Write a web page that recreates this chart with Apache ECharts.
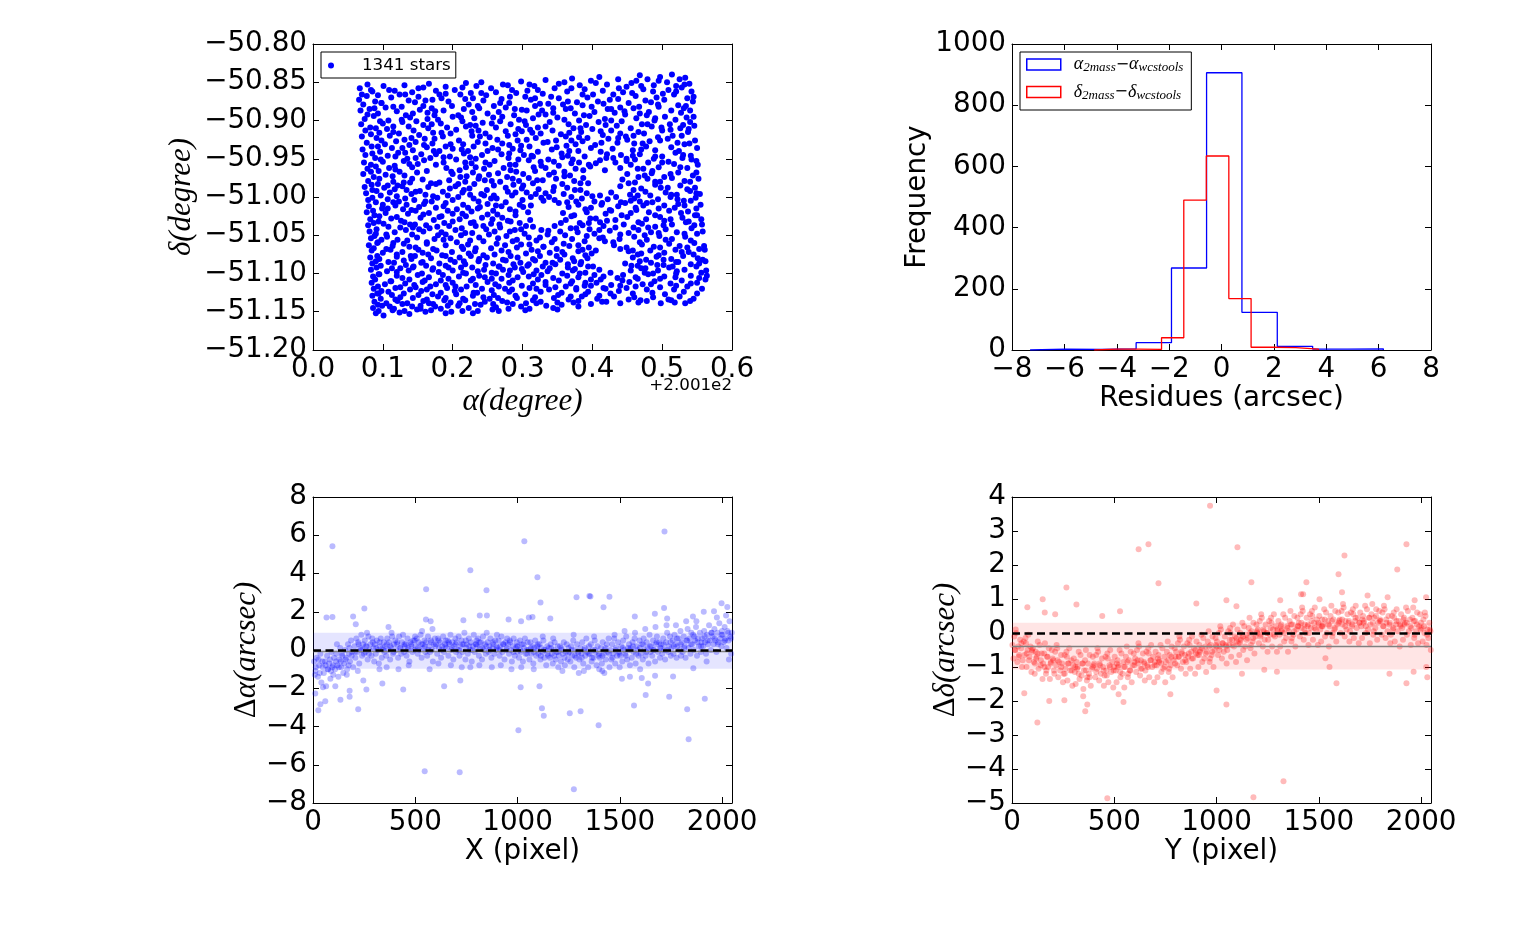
<!DOCTYPE html>
<html><head><meta charset="utf-8">
<script src="https://cdn.jsdelivr.net/npm/echarts@6/dist/echarts.min.js"></script>
<style>html,body{margin:0;padding:0;background:#fff}#c{width:1518px;height:927px}</style>
</head><body><div id="c"></div>
<script>
// ---------- DATA ----------
const starCountLabel = '1341 stars';
const raOffsetText = '+2.001e2';
// [alpha - 200.1 (deg), delta (deg)]
const starPositionsA = [
[.067,-50.858],[.078,-50.853],[.101,-50.855],[.109,-50.86],[.131,-50.854],[.158,-50.857],[.166,-50.852],[.19,-50.856],[.219,-50.851],[.234,-50.855],[.241,-50.85],[.272,-50.853],[.298,-50.849],[.31,-50.853],[.333,-50.847],[.36,-50.85],[.371,-50.845],[.398,-50.848],[.41,-50.843],[.437,-50.846],[.468,-50.841],[.479,-50.846],[.497,-50.843],[.514,-50.84],[.533,-50.844],
[.07,-50.866],[.085,-50.862],[.093,-50.867],[.117,-50.861],[.124,-50.866],[.142,-50.863],[.176,-50.861],[.181,-50.866],[.203,-50.86],[.226,-50.864],[.255,-50.858],[.262,-50.863],[.285,-50.86],[.317,-50.855],[.322,-50.86],[.346,-50.858],[.382,-50.854],[.389,-50.859],[.421,-50.853],[.449,-50.856],[.456,-50.851],[.488,-50.854],[.507,-50.85],[.52,-50.855],[.539,-50.852],
[.066,-50.873],[.089,-50.875],[.112,-50.87],[.137,-50.874],[.151,-50.869],[.161,-50.874],[.184,-50.871],[.211,-50.866],[.229,-50.871],[.248,-50.867],[.27,-50.872],[.291,-50.864],[.304,-50.869],[.329,-50.865],[.341,-50.869],[.364,-50.862],[.401,-50.866],[.415,-50.861],[.43,-50.866],[.444,-50.863],[.473,-50.859],[.501,-50.865],[.509,-50.86],[.528,-50.857],[.542,-50.862],
[.072,-50.879],[.081,-50.885],[.098,-50.877],[.104,-50.883],[.127,-50.882],[.146,-50.876],[.17,-50.884],[.194,-50.875],[.199,-50.881],[.223,-50.879],[.244,-50.874],[.259,-50.881],[.281,-50.877],[.312,-50.873],[.337,-50.878],[.352,-50.871],[.378,-50.876],[.393,-50.87],[.408,-50.875],[.425,-50.873],[.462,-50.868],[.476,-50.874],[.492,-50.87],[.517,-50.866],[.536,-50.871],
[.068,-50.887],[.093,-50.891],[.12,-50.888],[.133,-50.893],[.153,-50.886],[.164,-50.89],[.187,-50.887],[.208,-50.893],[.216,-50.885],[.238,-50.884],[.266,-50.889],[.276,-50.883],[.299,-50.886],[.318,-50.881],[.328,-50.887],[.358,-50.879],[.369,-50.884],[.386,-50.88],[.416,-50.878],[.44,-50.883],[.452,-50.877],[.467,-50.882],[.484,-50.876],[.523,-50.88],[.544,-50.875],
[.074,-50.898],[.087,-50.894],[.108,-50.9],[.139,-50.896],[.148,-50.901],[.174,-50.893],[.179,-50.899],[.2,-50.895],[.231,-50.897],[.25,-50.891],[.258,-50.896],[.288,-50.893],[.306,-50.887],[.323,-50.892],[.344,-50.89],[.362,-50.885],[.375,-50.891],[.403,-50.889],[.422,-50.885],[.432,-50.89],[.459,-50.884],[.481,-50.889],[.495,-50.882],[.513,-50.887],[.531,-50.884],
[.069,-50.905],[.082,-50.909],[.1,-50.904],[.115,-50.908],[.128,-50.902],[.158,-50.906],[.183,-50.904],[.192,-50.909],[.214,-50.901],[.225,-50.906],[.243,-50.903],[.268,-50.901],[.283,-50.905],[.295,-50.899],[.315,-50.897],[.339,-50.902],[.35,-50.896],[.381,-50.9],[.396,-50.894],[.418,-50.898],[.447,-50.892],[.463,-50.897],[.478,-50.893],[.504,-50.895],[.527,-50.89],[.545,-50.895],
[.075,-50.913],[.095,-50.916],[.106,-50.911],[.123,-50.917],[.144,-50.913],[.165,-50.91],[.172,-50.916],[.205,-50.912],[.219,-50.908],[.237,-50.913],[.262,-50.909],[.276,-50.914],[.305,-50.906],[.311,-50.912],[.333,-50.908],[.366,-50.905],[.373,-50.91],[.391,-50.906],[.409,-50.902],[.435,-50.907],[.442,-50.901],[.471,-50.905],[.489,-50.9],[.511,-50.905],[.519,-50.899],[.54,-50.902],
[.07,-50.921],[.091,-50.923],[.11,-50.92],[.131,-50.925],[.152,-50.919],[.16,-50.924],[.186,-50.921],[.197,-50.917],[.228,-50.92],[.247,-50.917],[.253,-50.922],[.29,-50.918],[.299,-50.914],[.326,-50.917],[.343,-50.913],[.355,-50.918],[.384,-50.915],[.4,-50.911],[.427,-50.913],[.455,-50.91],[.466,-50.915],[.485,-50.908],[.5,-50.913],[.526,-50.91],[.546,-50.907],
[.077,-50.929],[.084,-50.934],[.103,-50.931],[.119,-50.927],[.138,-50.932],[.147,-50.928],[.171,-50.93],[.19,-50.934],[.209,-50.926],[.215,-50.931],[.236,-50.928],[.264,-50.925],[.271,-50.93],[.293,-50.926],[.319,-50.923],[.336,-50.928],[.362,-50.921],[.37,-50.926],[.393,-50.923],[.415,-50.919],[.423,-50.924],[.448,-50.921],[.474,-50.917],[.494,-50.922],[.515,-50.92],[.537,-50.915],
[.071,-50.938],[.096,-50.941],[.113,-50.936],[.122,-50.942],[.143,-50.939],[.163,-50.935],[.181,-50.94],[.2,-50.937],[.222,-50.94],[.23,-50.934],[.257,-50.936],[.281,-50.932],[.286,-50.937],[.31,-50.934],[.33,-50.929],[.349,-50.935],[.376,-50.931],[.386,-50.927],[.404,-50.932],[.436,-50.929],[.45,-50.925],[.46,-50.93],[.482,-50.927],[.508,-50.924],[.522,-50.929],[.547,-50.926],
[.075,-50.945],[.089,-50.949],[.107,-50.946],[.135,-50.95],[.155,-50.944],[.168,-50.949],[.176,-50.944],[.196,-50.947],[.216,-50.943],[.242,-50.945],[.25,-50.94],[.27,-50.944],[.297,-50.939],[.302,-50.945],[.322,-50.941],[.342,-50.938],[.356,-50.943],[.38,-50.94],[.398,-50.936],[.412,-50.941],[.429,-50.937],[.458,-50.939],[.477,-50.934],[.49,-50.939],[.513,-50.935],[.532,-50.931],[.55,-50.936],
[.073,-50.955],[.083,-50.958],[.1,-50.954],[.117,-50.959],[.13,-50.953],[.15,-50.957],[.159,-50.952],[.187,-50.955],[.205,-50.951],[.227,-50.956],[.233,-50.95],[.26,-50.953],[.28,-50.949],[.309,-50.952],[.315,-50.947],[.337,-50.951],[.365,-50.946],[.372,-50.951],[.389,-50.947],[.42,-50.949],[.441,-50.945],[.449,-50.95],[.468,-50.944],[.5,-50.947],[.519,-50.942],[.541,-50.946],
[.078,-50.963],[.094,-50.966],[.109,-50.962],[.124,-50.967],[.142,-50.961],[.163,-50.966],[.191,-50.962],[.198,-50.967],[.219,-50.961],[.245,-50.963],[.253,-50.958],[.273,-50.962],[.29,-50.958],[.327,-50.959],[.345,-50.954],[.352,-50.959],[.381,-50.955],[.405,-50.956],[.411,-50.952],[.433,-50.955],[.461,-50.951],[.48,-50.955],[.488,-50.95],[.509,-50.954],[.529,-50.949],[.549,-50.953],
[.072,-50.97],[.087,-50.974],[.104,-50.971],[.131,-50.972],[.149,-50.968],[.2,-50.97],[.211,-50.974],[.229,-50.968],[.238,-50.973],[.265,-50.969],[.283,-50.965],[.301,-50.97],[.318,-50.966],[.333,-50.962],[.36,-50.967],[.376,-50.963],[.397,-50.96],[.418,-50.965],[.44,-50.962],[.455,-50.958],[.473,-50.963],[.495,-50.961],[.517,-50.957],[.536,-50.962],[.551,-50.958],
[.079,-50.979],[.093,-50.983],[.115,-50.98],[.121,-50.985],[.139,-50.981],[.157,-50.977],[.181,-50.981],[.195,-50.978],[.218,-50.98],[.237,-50.976],[.256,-50.979],[.278,-50.974],[.295,-50.979],[.309,-50.975],[.338,-50.971],[.348,-50.976],[.368,-50.972],[.387,-50.975],[.45,-50.97],[.466,-50.974],[.485,-50.969],[.503,-50.974],[.523,-50.968],[.544,-50.972],
[.074,-50.987],[.085,-50.991],[.102,-50.988],[.128,-50.986],[.134,-50.991],[.165,-50.987],[.176,-50.983],[.204,-50.986],[.224,-50.989],[.231,-50.983],[.259,-50.985],[.268,-50.98],[.287,-50.984],[.315,-50.982],[.329,-50.978],[.357,-50.983],[.374,-50.979],[.394,-50.982],[.443,-50.977],[.461,-50.981],[.479,-50.976],[.497,-50.98],[.514,-50.975],[.532,-50.979],[.552,-50.976],
[.076,-50.995],[.097,-50.998],[.11,-50.994],[.141,-50.996],[.153,-50.992],[.161,-50.997],[.186,-50.993],[.193,-50.998],[.214,-50.994],[.241,-50.996],[.249,-50.991],[.279,-50.993],[.299,-50.989],[.306,-50.994],[.323,-50.99],[.344,-50.992],[.364,-50.988],[.383,-50.991],[.44,-50.986],[.47,-50.989],[.49,-50.984],[.508,-50.988],[.526,-50.985],[.547,-50.988],
[.079,-51.004],[.09,-51.007],[.107,-51.003],[.123,-51.006],[.145,-51.004],[.17,-51.006],[.178,-51.001],[.2,-51.004],[.208,-51.0],[.23,-51.002],[.245,-50.998],[.263,-51.002],[.285,-50.998],[.312,-51.0],[.319,-50.996],[.338,-51.0],[.359,-50.996],[.37,-51.0],[.392,-50.995],[.411,-50.998],[.427,-50.994],[.454,-50.997],[.476,-50.993],[.483,-50.998],[.505,-50.994],[.521,-50.997],[.54,-50.992],[.554,-50.996],
[.08,-51.012],[.099,-51.015],[.118,-51.011],[.129,-51.016],[.152,-51.013],[.159,-51.009],[.187,-51.012],[.215,-51.01],[.222,-51.014],[.25,-51.009],[.27,-51.012],[.276,-51.007],[.296,-51.01],[.33,-51.005],[.352,-51.008],[.377,-51.006],[.385,-51.002],[.403,-51.006],[.422,-51.003],[.441,-51.007],[.46,-51.002],[.468,-51.006],[.494,-51.003],[.512,-51.0],[.531,-51.005],[.548,-51.001],
[.077,-51.02],[.088,-51.024],[.104,-51.021],[.136,-51.022],[.147,-51.018],[.166,-51.021],[.193,-51.018],[.2,-51.022],[.227,-51.019],[.236,-51.015],[.258,-51.018],[.282,-51.016],[.301,-51.013],[.366,-51.013],[.38,-51.01],[.398,-51.014],[.413,-51.01],[.437,-51.012],[.447,-51.008],[.473,-51.011],[.486,-51.007],[.503,-51.011],[.523,-51.009],[.541,-51.005],[.555,-51.01],
[.082,-51.029],[.094,-51.032],[.112,-51.028],[.126,-51.031],[.154,-51.027],[.173,-51.03],[.181,-51.026],[.21,-51.029],[.219,-51.025],[.242,-51.027],[.264,-51.023],[.271,-51.027],[.29,-51.024],[.308,-51.02],[.358,-51.021],[.374,-51.024],[.392,-51.02],[.419,-51.022],[.427,-51.018],[.455,-51.021],[.463,-51.017],[.481,-51.02],[.51,-51.018],[.518,-51.014],[.537,-51.019],
[.079,-51.037],[.101,-51.035],[.108,-51.039],[.139,-51.036],[.143,-51.04],[.162,-51.037],[.188,-51.034],[.195,-51.038],[.226,-51.034],[.233,-51.038],[.255,-51.035],[.279,-51.031],[.296,-51.034],[.311,-51.03],[.362,-51.03],[.382,-51.034],[.405,-51.028],[.411,-51.033],[.433,-51.03],[.45,-51.026],[.477,-51.029],[.497,-51.026],[.503,-51.031],[.529,-51.027],[.547,-51.024],[.556,-51.029],
[.081,-51.045],[.09,-51.048],[.117,-51.046],[.133,-51.043],[.158,-51.045],[.167,-51.041],[.184,-51.046],[.204,-51.043],[.218,-51.047],[.248,-51.042],[.26,-51.045],[.268,-51.04],[.289,-51.043],[.315,-51.039],[.327,-51.043],[.346,-51.038],[.369,-51.041],[.386,-51.037],[.396,-51.042],[.416,-51.038],[.445,-51.036],[.459,-51.04],[.471,-51.035],[.49,-51.039],[.514,-51.036],[.534,-51.033],[.557,-51.036],
[.083,-51.054],[.098,-51.056],[.106,-51.052],[.121,-51.056],[.149,-51.053],[.174,-51.055],[.179,-51.05],[.197,-51.054],[.212,-51.05],[.238,-51.053],[.252,-51.049],[.277,-51.051],[.303,-51.048],[.309,-51.053],[.336,-51.049],[.354,-51.045],[.361,-51.05],[.379,-51.046],[.403,-51.048],[.425,-51.044],[.452,-51.047],[.466,-51.043],[.484,-51.046],[.505,-51.042],[.521,-51.046],[.542,-51.041],[.558,-51.045],
[.08,-51.063],[.092,-51.06],[.114,-51.064],[.13,-51.061],[.138,-51.065],[.163,-51.061],[.19,-51.063],[.206,-51.059],[.222,-51.062],[.244,-51.058],[.263,-51.061],[.286,-51.058],[.298,-51.062],[.32,-51.057],[.342,-51.059],[.371,-51.055],[.389,-51.058],[.41,-51.054],[.418,-51.058],[.439,-51.055],[.46,-51.052],[.478,-51.056],[.496,-51.051],[.514,-51.055],[.533,-51.052],[.55,-51.048],
[.084,-51.07],[.1,-51.073],[.111,-51.069],[.128,-51.072],[.151,-51.069],[.157,-51.073],[.177,-51.07],[.199,-51.072],[.215,-51.068],[.232,-51.071],[.255,-51.067],[.27,-51.07],[.292,-51.066],[.313,-51.069],[.33,-51.065],[.349,-51.068],[.367,-51.064],[.395,-51.066],[.431,-51.063],[.449,-51.066],[.471,-51.062],[.488,-51.065],[.51,-51.061],[.525,-51.064],[.546,-51.06],[.56,-51.064],
[.082,-51.079],[.095,-51.081],[.12,-51.078],[.141,-51.081],[.146,-51.077],[.169,-51.08],[.185,-51.076],[.21,-51.079],[.226,-51.077],[.249,-51.079],[.26,-51.075],[.283,-51.077],[.305,-51.074],[.325,-51.077],[.339,-51.073],[.36,-51.075],[.38,-51.071],[.399,-51.074],[.405,-51.07],[.452,-51.071],[.465,-51.075],[.483,-51.07],[.503,-51.073],[.519,-51.069],[.538,-51.072],[.561,-51.069],
[.085,-51.087],[.097,-51.09],[.116,-51.086],[.133,-51.089],[.155,-51.086],[.162,-51.09],[.181,-51.087],[.203,-51.085],[.218,-51.088],[.237,-51.084],[.258,-51.087],[.276,-51.083],[.297,-51.086],[.318,-51.083],[.333,-51.086],[.354,-51.082],[.374,-51.084],[.393,-51.08],[.458,-51.079],[.477,-51.082],[.492,-51.078],[.513,-51.081],[.53,-51.077],[.551,-51.08],
[.083,-51.095],[.106,-51.097],[.113,-51.093],[.137,-51.096],[.143,-51.092],[.171,-51.095],[.194,-51.092],[.2,-51.096],[.228,-51.092],[.245,-51.095],[.266,-51.091],[.272,-51.095],[.289,-51.092],[.309,-51.088],[.329,-51.091],[.347,-51.088],[.365,-51.092],[.383,-51.088],[.401,-51.091],[.447,-51.087],[.465,-51.09],[.484,-51.086],[.502,-51.089],[.523,-51.085],[.541,-51.088],[.562,-51.084],
[.086,-51.104],[.095,-51.101],[.12,-51.103],[.128,-51.106],[.15,-51.102],[.166,-51.105],[.186,-51.102],[.209,-51.104],[.219,-51.1],[.238,-51.103],[.262,-51.1],[.28,-51.102],[.301,-51.098],[.316,-51.101],[.336,-51.097],[.357,-51.1],[.372,-51.096],[.39,-51.099],[.41,-51.095],[.455,-51.096],[.47,-51.093],[.494,-51.096],[.51,-51.092],[.532,-51.095],[.549,-51.091],[.563,-51.096],
[.084,-51.112],[.103,-51.114],[.111,-51.11],[.132,-51.113],[.157,-51.111],[.176,-51.114],[.183,-51.109],[.2,-51.112],[.226,-51.109],[.25,-51.111],[.256,-51.107],[.286,-51.109],[.293,-51.105],[.322,-51.108],[.344,-51.106],[.352,-51.109],[.38,-51.105],[.398,-51.108],[.416,-51.104],[.436,-51.106],[.444,-51.102],[.462,-51.105],[.48,-51.101],[.503,-51.104],[.52,-51.1],[.541,-51.103],[.564,-51.103],
[.087,-51.12],[.098,-51.123],[.118,-51.119],[.139,-51.121],[.147,-51.118],[.163,-51.121],[.192,-51.119],[.212,-51.121],[.22,-51.117],[.242,-51.12],[.266,-51.117],[.275,-51.12],[.299,-51.116],[.31,-51.119],[.333,-51.115],[.362,-51.117],[.369,-51.113],[.389,-51.116],[.406,-51.112],[.427,-51.115],[.453,-51.111],[.472,-51.114],[.489,-51.11],[.512,-51.113],[.528,-51.109],[.55,-51.112],[.562,-51.108],
[.085,-51.129],[.094,-51.126],[.113,-51.128],[.125,-51.131],[.151,-51.128],[.171,-51.127],[.179,-51.13],[.205,-51.127],[.229,-51.129],[.235,-51.125],[.259,-51.128],[.281,-51.124],[.304,-51.127],[.326,-51.124],[.338,-51.121],[.356,-51.125],[.377,-51.121],[.394,-51.124],[.419,-51.12],[.438,-51.123],[.449,-51.119],[.478,-51.121],[.497,-51.118],[.517,-51.121],[.536,-51.117],[.557,-51.12],
[.088,-51.137],[.105,-51.139],[.121,-51.136],[.135,-51.139],[.158,-51.136],[.166,-51.139],[.188,-51.135],[.197,-51.138],[.218,-51.135],[.246,-51.137],[.253,-51.133],[.271,-51.136],[.292,-51.132],[.315,-51.135],[.345,-51.132],[.366,-51.134],[.385,-51.13],[.407,-51.133],[.431,-51.13],[.46,-51.131],[.469,-51.135],[.487,-51.131],[.509,-51.134],[.525,-51.13],[.545,-51.133],
[.086,-51.145],[.099,-51.142],[.116,-51.146],[.142,-51.143],[.149,-51.147],[.175,-51.143],[.183,-51.146],[.208,-51.142],[.223,-51.145],[.24,-51.141],[.262,-51.144],[.286,-51.14],[.298,-51.143],[.32,-51.139],[.334,-51.142],[.356,-51.141],[.373,-51.138],[.398,-51.14],[.414,-51.137],[.44,-51.139],[.466,-51.138],[.498,-51.139],[.518,-51.138],[.533,-51.139],
[.09,-51.152],[.101,-51.155],[.124,-51.151],[.138,-51.153],[.161,-51.15],[.19,-51.152],[.214,-51.149],[.229,-51.152],[.266,-51.149],[.304,-51.148],[.35,-51.147]
];
const starPositionsB = [
[.083,-50.86],[.151,-50.858],[.214,-50.857],[.279,-50.854],[.352,-50.852],[.405,-50.851],[.463,-50.848],[.495,-50.848],[.525,-50.846],
[.077,-50.868],[.132,-50.866],[.19,-50.865],[.241,-50.864],[.307,-50.861],[.37,-50.858],[.438,-50.858],[.47,-50.855],[.532,-50.853],
[.098,-50.877],[.171,-50.873],[.218,-50.872],[.282,-50.869],[.318,-50.871],[.386,-50.866],[.457,-50.864],[.487,-50.862],[.52,-50.862],
[.088,-50.884],[.115,-50.882],[.158,-50.881],[.236,-50.881],[.268,-50.877],[.325,-50.878],[.365,-50.875],[.437,-50.872],[.503,-50.873],[.545,-50.869],
[.078,-50.892],[.143,-50.891],[.175,-50.888],[.228,-50.889],[.289,-50.885],[.344,-50.884],[.399,-50.882],[.427,-50.885],[.494,-50.879],[.534,-50.881],
[.096,-50.901],[.127,-50.899],[.164,-50.898],[.212,-50.896],[.271,-50.895],[.333,-50.892],[.388,-50.893],[.446,-50.888],[.468,-50.891],[.54,-50.887],
[.09,-50.91],[.137,-50.908],[.17,-50.905],[.233,-50.907],[.256,-50.904],[.303,-50.901],[.36,-50.899],[.427,-50.9],[.49,-50.897],[.535,-50.896],
[.083,-50.918],[.115,-50.915],[.184,-50.916],[.227,-50.914],[.294,-50.911],[.322,-50.909],[.383,-50.91],[.419,-50.906],[.479,-50.905],[.499,-50.909],[.53,-50.906],
[.098,-50.926],[.141,-50.923],[.174,-50.924],[.239,-50.921],[.279,-50.92],[.314,-50.916],[.367,-50.916],[.412,-50.914],[.44,-50.917],[.512,-50.912],[.538,-50.911],
[.093,-50.934],[.128,-50.936],[.159,-50.932],[.197,-50.931],[.247,-50.93],[.306,-50.925],[.348,-50.926],[.381,-50.922],[.437,-50.923],[.459,-50.92],[.528,-50.92],
[.085,-50.943],[.132,-50.942],[.173,-50.94],[.213,-50.938],[.265,-50.938],[.298,-50.933],[.363,-50.933],[.413,-50.929],[.472,-50.93],[.497,-50.926],[.539,-50.93],
[.097,-50.951],[.118,-50.947],[.147,-50.949],[.187,-50.948],[.225,-50.948],[.281,-50.943],[.313,-50.946],[.367,-50.94],[.421,-50.944],[.47,-50.938],[.524,-50.94],
[.09,-50.96],[.138,-50.957],[.176,-50.958],[.218,-50.955],[.247,-50.955],[.294,-50.951],[.326,-50.954],[.357,-50.948],[.43,-50.949],[.458,-50.946],[.49,-50.947],[.53,-50.945],
[.083,-50.967],[.118,-50.964],[.21,-50.965],[.233,-50.961],[.282,-50.958],[.316,-50.961],[.37,-50.956],[.395,-50.958],[.449,-50.953],[.5,-50.955],[.542,-50.951],
[.095,-50.976],[.114,-50.973],[.142,-50.976],[.22,-50.973],[.252,-50.971],[.291,-50.967],[.345,-50.968],[.387,-50.965],[.465,-50.963],[.486,-50.966],[.526,-50.961],
[.084,-50.984],[.107,-50.985],[.13,-50.981],[.169,-50.982],[.208,-50.983],[.246,-50.978],[.286,-50.976],[.321,-50.978],[.36,-50.973],[.475,-50.972],[.512,-50.97],[.549,-50.968],
[.091,-50.992],[.117,-50.99],[.147,-50.993],[.196,-50.989],[.216,-50.991],[.276,-50.988],[.301,-50.985],[.345,-50.987],[.383,-50.982],[.452,-50.982],[.49,-50.98],[.54,-50.98],
[.085,-51.001],[.12,-50.999],[.132,-51.002],[.172,-50.999],[.225,-50.997],[.259,-50.998],[.29,-50.994],[.333,-50.995],[.375,-50.991],[.459,-50.991],[.498,-50.988],[.536,-50.99],
[.1,-51.01],[.115,-51.007],[.134,-51.01],[.161,-51.006],[.19,-51.008],[.237,-51.006],[.255,-51.002],[.3,-51.004],[.327,-51.001],[.346,-51.004],[.4,-50.999],[.434,-51.0],[.465,-50.998],[.513,-50.997],[.549,-50.995],
[.086,-51.018],[.107,-51.015],[.141,-51.017],[.176,-51.014],[.206,-51.016],[.239,-51.013],[.262,-51.011],[.312,-51.011],[.364,-51.007],[.414,-51.008],[.455,-51.005],[.478,-51.008],[.522,-51.003],
[.095,-51.025],[.12,-51.026],[.158,-51.023],[.184,-51.025],[.214,-51.022],[.25,-51.023],[.29,-51.019],[.39,-51.016],[.425,-51.017],[.462,-51.014],[.495,-51.015],[.532,-51.011],[.549,-51.015],
[.087,-51.034],[.131,-51.033],[.146,-51.036],[.2,-51.032],[.23,-51.033],[.257,-51.029],[.283,-51.032],[.37,-51.025],[.397,-51.028],[.442,-51.024],[.49,-51.024],[.527,-51.021],[.55,-51.024],
[.091,-51.042],[.125,-51.04],[.152,-51.042],[.178,-51.039],[.213,-51.041],[.244,-51.038],[.267,-51.036],[.305,-51.038],[.355,-51.034],[.395,-51.034],[.421,-51.031],[.466,-51.033],[.512,-51.029],[.538,-51.032],
[.088,-51.051],[.105,-51.049],[.142,-51.049],[.19,-51.049],[.228,-51.047],[.282,-51.045],[.298,-51.042],[.337,-51.044],[.377,-51.041],[.41,-51.043],[.433,-51.04],[.48,-51.04],[.502,-51.037],[.546,-51.037],
[.093,-51.059],[.115,-51.06],[.135,-51.057],[.163,-51.059],[.187,-51.056],[.225,-51.057],[.265,-51.054],[.292,-51.056],[.325,-51.053],[.346,-51.055],[.392,-51.051],[.415,-51.053],[.44,-51.049],[.475,-51.05],[.495,-51.047],[.532,-51.048],
[.087,-51.067],[.105,-51.068],[.147,-51.066],[.172,-51.068],[.213,-51.065],[.233,-51.067],[.275,-51.063],[.31,-51.062],[.33,-51.065],[.359,-51.061],[.38,-51.063],[.43,-51.059],[.468,-51.059],[.505,-51.056],[.541,-51.057],
[.092,-51.077],[.12,-51.075],[.14,-51.077],[.165,-51.075],[.19,-51.077],[.223,-51.074],[.244,-51.076],[.28,-51.072],[.322,-51.071],[.357,-51.072],[.386,-51.069],[.44,-51.068],[.458,-51.07],[.497,-51.066],[.536,-51.066],[.553,-51.068],
[.09,-51.084],[.108,-51.085],[.13,-51.083],[.157,-51.085],[.197,-51.082],[.216,-51.084],[.238,-51.081],[.272,-51.082],[.293,-51.079],[.315,-51.081],[.349,-51.077],[.372,-51.08],[.39,-51.076],[.47,-51.074],[.495,-51.076],[.528,-51.072],[.545,-51.075],
[.091,-51.092],[.125,-51.093],[.144,-51.091],[.172,-51.093],[.19,-51.09],[.212,-51.092],[.247,-51.089],[.267,-51.091],[.287,-51.088],[.307,-51.09],[.343,-51.086],[.365,-51.088],[.384,-51.085],[.468,-51.084],[.502,-51.082],[.52,-51.085],[.558,-51.082],
[.094,-51.101],[.12,-51.098],[.156,-51.1],[.18,-51.098],[.215,-51.099],[.236,-51.097],[.256,-51.099],[.282,-51.096],[.299,-51.094],[.32,-51.096],[.339,-51.093],[.375,-51.094],[.394,-51.091],[.456,-51.09],[.476,-51.093],[.493,-51.089],[.515,-51.091],[.553,-51.087],
[.089,-51.108],[.112,-51.11],[.138,-51.108],[.16,-51.109],[.194,-51.107],[.229,-51.107],[.246,-51.105],[.27,-51.107],[.309,-51.104],[.327,-51.102],[.364,-51.103],[.382,-51.1],[.403,-51.102],[.426,-51.099],[.475,-51.099],[.487,-51.1],[.521,-51.097],[.556,-51.099],
[.093,-51.117],[.125,-51.118],[.145,-51.115],[.168,-51.117],[.19,-51.115],[.204,-51.117],[.233,-51.115],[.261,-51.114],[.281,-51.112],[.315,-51.113],[.333,-51.111],[.371,-51.11],[.39,-51.112],[.412,-51.108],[.443,-51.109],[.465,-51.107],[.497,-51.107],[.519,-51.105],[.553,-51.106],
[.092,-51.126],[.108,-51.124],[.13,-51.126],[.155,-51.123],[.183,-51.125],[.203,-51.123],[.23,-51.125],[.256,-51.122],[.285,-51.121],[.32,-51.12],[.347,-51.118],[.377,-51.119],[.398,-51.116],[.416,-51.119],[.44,-51.116],[.462,-51.117],[.484,-51.114],[.52,-51.116],[.541,-51.113],
[.097,-51.133],[.118,-51.134],[.143,-51.132],[.163,-51.134],[.19,-51.132],[.215,-51.133],[.244,-51.131],[.265,-51.132],[.29,-51.129],[.318,-51.131],[.351,-51.128],[.369,-51.13],[.39,-51.127],[.41,-51.129],[.426,-51.126],[.458,-51.126],[.486,-51.125],[.504,-51.127],[.531,-51.124],[.55,-51.126],
[.093,-51.141],[.11,-51.143],[.128,-51.14],[.154,-51.142],[.172,-51.14],[.193,-51.142],[.21,-51.139],[.232,-51.14],[.258,-51.14],[.278,-51.138],[.305,-51.139],[.326,-51.137],[.35,-51.138],[.38,-51.136],[.42,-51.137],[.452,-51.134],[.478,-51.136],[.513,-51.135],[.54,-51.136],
[.094,-51.149],[.114,-51.148],[.131,-51.149],[.154,-51.146],[.169,-51.148],[.198,-51.15],[.236,-51.149],[.257,-51.147],[.28,-51.146],[.31,-51.146],[.344,-51.145],[.38,-51.143]
];
const starPositions = starPositionsA.concat(starPositionsB);
// histogram bin edges and counts (arcsec)
const histEdgesAlpha = [-7.31,-5.96,-4.61,-3.26,-1.91,-0.57,0.78,2.13,3.48,4.83,6.18];
const histCountsAlpha = [3,2,4,24,268,906,123,12,3,4];
const histEdgesDelta = [-4.86,-4.00,-3.15,-2.29,-1.44,-0.58,0.28,1.13,1.99,2.84,3.70];
const histCountsDelta = [3,3,2,40,490,634,168,9,8,3];
const histNameAlpha = 'alpha';
const histNameDelta = 'delta';
// residuals vs pixel: [X pixel, d_alpha arcsec]
const residAlphaX = [
[5,-0.6],[12,-1.1],[18,-0.4],[24,-1.4],[30,-0.8],[36,-0.2],[41,-1.7],[47,-0.9],[9,-1.3],[27,-0.5],
[53,-1.2],[58,-0.6],[64,-1.9],[69,-0.3],[74,-1.0],[79,-0.7],[85,-1.5],[90,-0.1],[95,-0.9],[99,-1.3],[61,-0.8],[88,-1.1],
[103,-0.4],[108,-1.0],[114,-0.2],[119,-0.8],[124,-1.4],[129,-0.5],[133,0.1],[138,-0.9],[143,-0.3],[148,-1.2],[117,0.3],[136,-0.6],
[152,-0.7],[157,0.0],[162,-0.4],[167,-1.0],[171,0.3],[176,-0.2],[181,-0.6],[186,0.5],[191,-0.1],[196,-0.9],[178,0.1],[165,-1.3],
[203,0.2],[207,-0.4],[212,0.6],[216,-0.1],[221,0.4],[226,-0.7],[231,0.1],[236,0.8],[240,-0.3],[245,0.3],[249,-0.2],[219,-1.1],[234,0.0],
[253,0.5],[257,-0.1],[262,0.2],[267,-0.5],[271,0.7],[276,0.0],[281,0.3],[286,-0.3],[290,0.6],[295,0.1],[299,-0.6],[264,0.9],
[302,0.3],[307,-0.2],[312,0.5],[317,0.0],[322,-0.7],[327,0.2],[331,0.6],[336,-0.4],[341,0.1],[346,0.4],[349,-0.1],[325,-1.0],
[353,0.2],[358,-0.3],[363,0.6],[368,0.0],[372,0.4],[377,-0.5],[382,0.1],[387,0.7],[391,-0.2],[396,0.3],[360,-0.9],[384,0.9],
[402,0.5],[407,0.0],[411,0.3],[416,-0.4],[421,0.7],[426,0.1],[431,-0.2],[435,0.4],[440,0.8],[445,-0.1],[449,0.2],[418,-1.0],
[453,0.3],[457,-0.3],[462,0.6],[466,0.1],[471,-0.6],[476,0.4],[481,0.2],[486,-0.1],[490,0.5],[495,0.0],[499,0.7],[468,-0.8],
[502,0.2],[507,0.6],[512,-0.2],[516,0.4],[521,0.0],[526,0.8],[531,-0.4],[536,0.3],[541,0.1],[545,0.5],[549,-0.1],[533,1.0],
[553,0.4],[558,-0.3],[562,0.7],[567,0.2],[572,-0.1],[576,0.5],[581,0.0],[586,-0.6],[591,0.3],[596,0.6],[570,-1.0],[584,1.1],
[602,0.3],[607,-0.2],[611,0.6],[616,0.1],[621,0.4],[626,-0.4],[631,0.2],[636,0.7],[640,-0.1],[645,0.3],[649,0.5],[613,-0.7],
[653,0.1],[658,0.5],[662,-0.3],[667,0.3],[672,0.8],[677,0.0],[681,0.4],[686,-0.5],[691,0.2],[696,0.6],[699,-0.1],[674,-0.8],
[702,0.4],[707,0.0],[712,0.7],[716,-0.3],[721,0.2],[726,0.5],[731,-0.1],[736,0.3],[740,0.9],[745,-0.5],[749,0.1],[727,-0.9],
[752,0.3],[757,-0.2],[762,0.6],[767,0.0],[771,0.4],[776,-0.6],[781,0.2],[786,0.8],[790,-0.1],[795,0.3],[799,0.5],[769,-0.9],
[802,0.2],[807,0.6],[811,-0.3],[816,0.1],[821,0.4],[826,-0.5],[831,0.7],[836,0.0],[840,0.3],[845,-0.2],[849,0.9],[813,-0.8],
[853,0.4],[858,-0.1],[862,0.2],[867,0.6],[872,-0.4],[877,0.1],[881,0.3],[886,-0.2],[891,0.5],[896,0.0],[899,0.8],[874,-0.9],
[902,0.1],[907,0.5],[912,-0.3],[916,0.2],[921,0.7],[926,-0.1],[931,0.3],[936,-0.5],[940,0.4],[945,0.0],[949,0.6],[918,-0.8],
[953,0.3],[958,-0.2],[962,0.5],[967,0.0],[972,-0.6],[977,0.2],[981,0.6],[986,-0.3],[991,0.1],[996,0.4],[999,-0.1],[970,-1.0],
[1002,0.2],[1007,-0.4],[1012,0.5],[1016,-0.1],[1021,0.3],[1026,-0.6],[1031,0.1],[1036,0.6],[1040,-0.2],[1045,0.0],[1049,0.4],[1018,-0.9],
[1053,0.0],[1058,-0.5],[1062,0.4],[1067,-0.2],[1072,0.2],[1077,-0.7],[1081,0.1],[1086,0.5],[1091,-0.3],[1096,0.0],[1099,0.3],[1079,-1.0],
[1102,-0.2],[1107,0.3],[1112,-0.5],[1116,0.1],[1121,-0.1],[1126,0.5],[1131,-0.4],[1136,0.0],[1140,-0.8],[1145,0.2],[1149,-0.3],[1123,0.7],
[1153,0.1],[1158,-0.4],[1162,0.3],[1167,-0.2],[1172,-0.7],[1177,0.0],[1181,0.4],[1186,-0.5],[1191,-0.1],[1196,0.2],[1199,-0.9],[1174,0.6],
[1202,-0.3],[1207,0.2],[1212,-0.6],[1216,0.0],[1221,-0.2],[1226,0.4],[1231,-0.8],[1236,-0.1],[1240,0.3],[1245,-0.5],[1249,0.1],[1219,-1.1],
[1253,-0.1],[1258,-0.6],[1262,0.2],[1267,-0.3],[1272,0.5],[1277,-0.9],[1281,0.0],[1286,-0.4],[1291,0.3],[1296,-0.2],[1299,-1.2],[1274,0.8],
[1302,-0.5],[1307,0.1],[1312,-0.2],[1316,0.4],[1321,-0.7],[1326,0.0],[1331,-0.3],[1336,0.6],[1340,-0.1],[1345,-0.9],[1349,0.2],[1324,-1.1],
[1353,-0.2],[1358,0.3],[1362,-0.6],[1367,0.0],[1372,-0.4],[1377,0.5],[1381,-0.1],[1386,-0.8],[1391,0.2],[1396,-0.3],[1399,-1.0],[1374,0.7],
[1402,-0.4],[1407,0.1],[1412,-0.7],[1416,0.4],[1421,-0.2],[1426,0.0],[1431,-0.5],[1436,0.3],[1440,-0.1],[1445,0.6],[1449,-0.9],[1424,-1.2],
[1453,0.0],[1458,-0.5],[1462,0.3],[1467,-0.2],[1472,0.6],[1477,-0.7],[1481,0.1],[1486,-0.3],[1491,0.4],[1496,-0.1],[1499,-0.9],[1474,0.8],
[1502,-0.3],[1507,0.2],[1512,-0.6],[1516,0.5],[1521,0.0],[1526,-0.2],[1531,0.7],[1536,-0.5],[1540,0.1],[1545,0.3],[1549,-0.8],[1523,1.0],
[1553,0.1],[1558,-0.4],[1562,0.4],[1567,-0.1],[1572,0.6],[1577,-0.7],[1581,0.2],[1586,0.0],[1591,-0.3],[1596,0.5],[1599,-1.0],[1574,0.9],
[1602,-0.2],[1607,0.3],[1612,-0.5],[1616,0.6],[1621,0.0],[1626,-0.3],[1631,0.4],[1636,0.1],[1640,-0.7],[1645,0.8],[1649,-0.1],[1624,1.1],
[1653,0.2],[1658,-0.3],[1662,0.5],[1667,0.0],[1672,-0.6],[1677,0.3],[1681,0.7],[1686,-0.1],[1691,0.4],[1696,-0.4],[1699,0.1],[1674,1.2],
[1702,0.3],[1707,-0.2],[1712,0.6],[1716,0.0],[1721,-0.5],[1726,0.4],[1731,0.9],[1736,-0.1],[1740,0.2],[1745,0.7],[1749,-0.3],[1728,1.3],
[1753,0.1],[1758,0.5],[1762,-0.2],[1767,0.8],[1772,0.3],[1777,-0.4],[1781,0.2],[1786,0.6],[1791,0.0],[1796,1.0],[1799,-0.3],[1774,1.3],
[1802,0.4],[1807,-0.1],[1812,0.7],[1816,0.2],[1821,-0.4],[1826,0.5],[1831,1.1],[1836,0.1],[1840,0.6],[1845,-0.2],[1849,0.9],[1824,1.5],
[1853,0.3],[1858,0.8],[1862,0.0],[1867,0.5],[1872,1.2],[1877,-0.3],[1881,0.6],[1886,0.2],[1891,0.9],[1896,-0.1],[1899,0.4],[1874,1.5],
[1902,0.6],[1907,0.2],[1912,1.0],[1916,0.4],[1921,-0.2],[1926,0.8],[1931,0.3],[1936,1.3],[1940,0.5],[1945,0.0],[1949,0.9],[1924,-0.6],
[1953,0.7],[1958,0.3],[1962,1.1],[1967,0.5],[1972,-0.1],[1977,0.9],[1981,0.4],[1986,1.4],[1991,0.6],[1996,0.2],[1999,1.0],[1974,1.7],
[2002,0.8],[2007,0.4],[2012,1.2],[2016,0.6],[2021,0.1],[2026,1.0],[2031,0.5],[2036,1.5],[2040,0.7],[2044,-0.2],[2047,0.9],[2019,1.8],[2033,-0.5],
[14,-0.9],[33,-1.2],[46,-0.6],[72,-1.0],[83,-0.5],[97,-0.8],[112,-0.6],[126,-0.9],[141,-0.2],[159,-0.5],[174,-0.8],[189,-0.3],[205,-0.1],[223,0.3],[241,0.0],[258,0.2],[273,-0.2],[292,0.4],[309,0.1],[326,0.4],[344,0.0],[361,0.3],[379,0.2],[394,-0.1],[412,0.4],[428,0.1],[447,0.3],[463,0.0],[479,0.3],[497,0.5],[513,0.1],[529,0.3],[547,0.2],[564,0.0],[578,0.4],[598,0.2],[614,0.5],[629,0.0],[647,0.2],[664,0.4],[679,0.1],[697,0.3],[714,0.0],[729,0.3],[747,0.5],[764,0.2],[779,0.0],[797,0.3],[814,0.4],[829,0.1],[847,0.2],[864,0.0],[879,0.4],[897,0.2],[914,0.0],[929,0.3],[947,0.1],[964,0.4],[979,-0.1],[997,0.2],[1014,0.0],[1029,0.3],[1047,-0.2],[1064,0.1],[1079,-0.1],[1097,0.2],[1114,-0.3],[1129,0.0],[1147,-0.2],[1164,0.1],[1179,-0.3],[1197,-0.1],[1214,0.1],[1229,-0.4],[1247,-0.2],[1264,0.0],[1279,-0.3],[1297,-0.1],[1314,-0.4],[1329,0.1],[1347,-0.2],[1364,-0.4],[1379,0.0],[1397,-0.2],[1414,-0.3],[1429,0.1],[1447,-0.2],[1464,-0.4],[1479,0.0],[1497,-0.2],[1514,0.1],[1529,-0.3],[1547,0.0],[1564,0.2],[1579,-0.2],[1597,0.1],[1614,0.3],[1629,-0.1],[1647,0.2],[1664,0.0],[1679,0.4],[1697,0.1],[1714,0.3],[1729,0.0],[1747,0.4],[1764,0.2],[1779,0.6],[1797,0.3],[1814,0.1],[1829,0.5],[1847,0.3],[1864,0.7],[1879,0.4],[1897,0.2],[1914,0.7],[1929,0.5],[1947,0.9],[1964,0.6],[1979,0.3],[1997,0.8],[2014,0.5],[2029,0.9],[2043,0.6],
[95,5.42],[1033,5.68],[1718,6.2],[769,4.17],[1097,3.8],[553,3.17],[848,3.12],[1288,2.76],[1351,2.83],[1356,2.8],[1449,2.79],[1112,2.49],[1420,2.23],[1716,2.2],[251,2.17],[1997,2.45],[2025,2.25],[1910,2.0],[1960,2.02],[66,1.7],[95,1.72],[196,1.75],[815,1.8],[850,1.8],[735,1.55],[1017,1.5],[956,1.6],[552,1.6],[575,1.5],[1160,1.65],[1573,1.75],[1671,1.9],[1857,1.75],[1055,1.7],[1073,1.72],[1731,1.65],[369,1.2],[209,1.35],
[11,-2.27],[26,-3.15],[36,-2.84],[60,-2.68],[49,-1.95],[109,-1.9],[134,-2.6],[179,-2.13],[179,-2.45],[221,-3.1],[246,-1.6],[261,-2.06],[339,-1.75],[441,-2.06],[641,-1.9],[720,-1.6],[546,-6.34],[717,-6.39],[1275,-7.28],[1004,-4.2],[1396,-3.93],[1836,-4.67],[1255,-3.31],[1308,-3.2],[1128,-3.44],[1119,-3.04],[1107,-1.9],[1015,-1.95],[1569,-2.9],[1626,-2.35],[1638,-1.75],[1741,-2.45],[1915,-2.55],[1829,-3.1],[1760,-1.38],[1672,-1.34],[1859,-0.96],[1607,-1.47],[1510,-1.5],[1549,-1.4],[1414,-1.1]
];
// residuals vs pixel: [Y pixel, d_delta arcsec]
const residDeltaY = [
[2,-0.35],[7,-0.75],[11,-0.1],[16,-0.5],[21,0],[26,-0.85],[30,-0.4],[35,-0.65],[40,-0.2],[45,-0.45],[49,-1.0],[18,0.1],
[52,-0.8],[57,-0.25],[61,-0.65],[66,-0.15],[71,-1.0],[76,-0.5],[80,-0.05],[85,-0.7],[90,-0.4],[95,-1.15],[99,-0.55],[68,-0.3],
[102,-0.45],[107,-0.85],[111,-1.2],[116,-0.55],[121,-0.7],[126,-0.25],[130,-1.05],[135,-0.35],[140,-0.95],[145,-0.6],[149,-1.35],[118,-0.75],
[152,-0.9],[157,-0.6],[161,-0.3],[166,-1.2],[171,-0.7],[176,-1.0],[180,-0.45],[185,-1.35],[190,-0.85],[195,-0.5],[199,-0.75],[168,-1.1],
[202,-0.8],[207,-1.2],[211,-0.55],[216,-0.95],[221,-0.45],[226,-1.3],[230,-0.85],[235,-1.1],[240,-0.65],[245,-0.9],[249,-1.45],[218,-0.35],
[252,-1.2],[257,-0.65],[261,-1.05],[266,-0.55],[271,-1.4],[276,-0.9],[280,-0.45],[285,-1.1],[290,-0.8],[295,-1.55],[299,-0.95],[268,-0.7],
[302,-0.75],[307,-1.15],[311,-1.5],[316,-0.85],[321,-1.0],[326,-0.55],[330,-1.35],[335,-0.65],[340,-1.25],[345,-0.9],[349,-1.65],[318,-1.05],
[352,-1.1],[357,-0.8],[361,-0.5],[366,-1.4],[371,-0.9],[376,-1.2],[380,-0.65],[385,-1.55],[390,-1.05],[395,-0.7],[399,-0.95],[368,-1.3],
[402,-0.9],[407,-1.3],[411,-0.65],[416,-1.05],[421,-0.55],[426,-1.4],[430,-0.95],[435,-1.2],[440,-0.75],[445,-1.0],[449,-1.55],[418,-0.45],
[452,-1.25],[457,-0.7],[461,-1.1],[466,-0.6],[471,-1.45],[476,-0.95],[480,-0.5],[485,-1.15],[490,-0.85],[495,-1.6],[499,-1.0],[468,-0.75],
[502,-0.7],[507,-1.1],[511,-1.45],[516,-0.8],[521,-0.95],[526,-0.5],[530,-1.3],[535,-0.6],[540,-1.2],[545,-0.85],[549,-1.6],[518,-1.0],
[552,-1.0],[557,-0.7],[561,-0.4],[566,-1.3],[571,-0.8],[576,-1.1],[580,-0.55],[585,-1.45],[590,-0.95],[595,-0.6],[599,-0.85],[568,-1.2],
[602,-0.75],[607,-1.15],[611,-0.5],[616,-0.9],[621,-0.4],[626,-1.25],[630,-0.8],[635,-1.05],[640,-0.6],[645,-0.85],[649,-1.4],[618,-0.3],
[652,-1.1],[657,-0.55],[661,-0.95],[666,-0.45],[671,-1.3],[676,-0.8],[680,-0.35],[685,-1.0],[690,-0.7],[695,-1.45],[699,-0.85],[668,-0.6],
[702,-0.55],[707,-0.95],[711,-1.3],[716,-0.65],[721,-0.8],[726,-0.35],[730,-1.15],[735,-0.45],[740,-1.05],[745,-0.7],[749,-1.45],[718,-0.85],
[752,-0.85],[757,-0.55],[761,-0.25],[766,-1.15],[771,-0.65],[776,-0.95],[780,-0.4],[785,-1.3],[790,-0.8],[795,-0.45],[799,-0.7],[768,-1.05],
[802,-0.55],[807,-0.95],[811,-0.3],[816,-0.7],[821,-0.2],[826,-1.05],[830,-0.6],[835,-0.85],[840,-0.4],[845,-0.65],[849,-1.2],[818,-0.1],
[852,-0.85],[857,-0.3],[861,-0.7],[866,-0.2],[871,-1.05],[876,-0.55],[880,-0.1],[885,-0.75],[890,-0.45],[895,-1.2],[899,-0.6],[868,-0.35],
[902,-0.25],[907,-0.65],[911,-1.0],[916,-0.35],[921,-0.5],[926,-0.05],[930,-0.85],[935,-0.15],[940,-0.75],[945,-0.4],[949,-1.15],[918,-0.55],
[952,-0.55],[957,-0.25],[961,0.05],[966,-0.85],[971,-0.35],[976,-0.65],[980,-0.1],[985,-1.0],[990,-0.5],[995,-0.15],[999,-0.4],[968,-0.75],
[1002,-0.25],[1007,-0.65],[1011,0],[1016,-0.4],[1021,0.1],[1026,-0.75],[1030,-0.3],[1035,-0.55],[1040,-0.1],[1045,-0.35],[1049,-0.9],[1018,0.2],
[1052,-0.5],[1057,0.05],[1061,-0.35],[1066,0.15],[1071,-0.7],[1076,-0.2],[1080,0.25],[1085,-0.4],[1090,-0.1],[1095,-0.85],[1099,-0.25],[1068,0],
[1102,0.1],[1107,-0.3],[1111,-0.65],[1116,0],[1121,-0.15],[1126,0.3],[1130,-0.5],[1135,0.2],[1140,-0.4],[1145,-0.05],[1149,-0.8],[1118,-0.2],
[1152,-0.15],[1157,0.15],[1161,0.45],[1166,-0.45],[1171,0.05],[1176,-0.25],[1180,0.3],[1185,-0.6],[1190,-0.1],[1195,0.25],[1199,0],[1168,-0.35],
[1202,0.1],[1207,-0.3],[1211,0.35],[1216,-0.05],[1221,0.45],[1226,-0.4],[1230,0.05],[1235,-0.2],[1240,0.25],[1245,0],[1249,-0.55],[1218,0.55],
[1252,-0.2],[1257,0.35],[1261,-0.05],[1266,0.45],[1271,-0.4],[1276,0.1],[1280,0.55],[1285,-0.1],[1290,0.2],[1295,-0.55],[1299,0.05],[1268,0.3],
[1302,0.35],[1307,-0.05],[1311,-0.4],[1316,0.25],[1321,0.1],[1326,0.55],[1330,-0.25],[1335,0.45],[1340,-0.15],[1345,0.2],[1349,-0.55],[1318,0.05],
[1352,0.05],[1357,0.35],[1361,0.65],[1366,-0.25],[1371,0.25],[1376,-0.05],[1380,0.5],[1385,-0.4],[1390,0.1],[1395,0.45],[1399,0.2],[1368,-0.15],
[1402,0.3],[1407,-0.1],[1411,0.55],[1416,0.15],[1421,0.65],[1426,-0.2],[1430,0.25],[1435,0],[1440,0.45],[1445,0.2],[1449,-0.35],[1418,0.75],
[1452,0],[1457,0.55],[1461,0.15],[1466,0.65],[1471,-0.2],[1476,0.3],[1480,0.75],[1485,0.1],[1490,0.4],[1495,-0.35],[1499,0.25],[1468,0.5],
[1502,0.5],[1507,0.1],[1511,-0.25],[1516,0.4],[1521,0.25],[1526,0.7],[1530,-0.1],[1535,0.6],[1540,0],[1545,0.35],[1549,-0.4],[1518,0.2],
[1552,0.2],[1557,0.5],[1561,0.8],[1566,-0.1],[1571,0.4],[1576,0.1],[1580,0.65],[1585,-0.25],[1590,0.25],[1595,0.6],[1599,0.35],[1568,0],
[1602,0.4],[1607,0],[1611,0.65],[1616,0.25],[1621,0.75],[1626,-0.1],[1630,0.35],[1635,0.1],[1640,0.55],[1645,0.3],[1649,-0.25],[1618,0.85],
[1652,0.05],[1657,0.6],[1661,0.2],[1666,0.7],[1671,-0.15],[1676,0.35],[1680,0.8],[1685,0.15],[1690,0.45],[1695,-0.3],[1699,0.3],[1668,0.55],
[1702,0.6],[1707,0.2],[1711,-0.15],[1716,0.5],[1721,0.35],[1726,0.8],[1730,0],[1735,0.7],[1740,0.1],[1745,0.45],[1749,-0.3],[1718,0.3],
[1752,0.25],[1757,0.55],[1761,0.85],[1766,-0.05],[1771,0.45],[1776,0.15],[1780,0.7],[1785,-0.2],[1790,0.3],[1795,0.65],[1799,0.4],[1768,0.05],
[1802,0.35],[1807,-0.05],[1811,0.6],[1816,0.2],[1821,0.7],[1826,-0.15],[1830,0.3],[1835,0.05],[1840,0.5],[1845,0.25],[1849,-0.3],[1818,0.8],
[1852,-0.05],[1857,0.5],[1861,0.1],[1866,0.6],[1871,-0.25],[1876,0.25],[1880,0.7],[1885,0.05],[1890,0.35],[1895,-0.4],[1899,0.2],[1868,0.45],
[1902,0.55],[1907,0.15],[1911,-0.2],[1916,0.45],[1921,0.3],[1926,0.75],[1930,-0.05],[1935,0.65],[1940,0.05],[1945,0.4],[1949,-0.35],[1918,0.25],
[1952,0.15],[1957,0.45],[1961,0.75],[1966,-0.15],[1971,0.35],[1976,0.05],[1980,0.6],[1985,-0.3],[1990,0.2],[1995,0.55],[1999,0.3],[1968,-0.05],
[2002,0.15],[2007,-0.25],[2011,0.4],[2016,0],[2021,0.5],[2026,-0.35],[2030,0.1],[2035,-0.15],[2040,0.3],[2045,0.05],[2047,-0.5],[2018,0.6],
[14,-0.5],[33,-0.7],[46,-0.3],[72,-0.6],[83,-0.8],[97,-0.5],[112,-0.9],[126,-0.6],[141,-0.8],[159,-1.0],[174,-0.7],[189,-0.9],[205,-1.1],[223,-0.8],[241,-1.0],[258,-1.2],[273,-0.9],[292,-1.1],[309,-1.0],[326,-1.2],[344,-0.9],[361,-1.1],[379,-1.3],[394,-1.0],[412,-1.15],[428,-0.9],[447,-1.1],[463,-1.25],[479,-1.0],[497,-1.1],[513,-0.9],[529,-1.15],[547,-1.0],[564,-0.85],[578,-1.1],[598,-0.95],[614,-0.8],[629,-1.05],[647,-0.9],[664,-1.0],[679,-0.8],[697,-0.95],[714,-0.75],[729,-0.9],[747,-1.0],[764,-0.8],[779,-0.7],[797,-0.9],[814,-0.7],[829,-0.55],[847,-0.8],[864,-0.6],[879,-0.75],[897,-0.5],[914,-0.65],[929,-0.45],[947,-0.6],[964,-0.4],[979,-0.55],[997,-0.35],[1014,-0.5],[1029,-0.3],[1047,-0.4],[1064,-0.2],[1079,-0.35],[1097,-0.15],[1114,-0.3],[1129,-0.1],[1147,-0.2],[1164,0.0],[1179,-0.15],[1197,0.05],[1214,-0.1],[1229,0.1],[1247,0.0],[1264,0.15],[1279,-0.05],[1297,0.1],[1314,0.2],[1329,0.0],[1347,0.15],[1364,0.25],[1379,0.05],[1397,0.2],[1414,0.3],[1429,0.1],[1447,0.25],[1464,0.35],[1479,0.15],[1497,0.3],[1514,0.2],[1529,0.4],[1547,0.25],[1564,0.35],[1579,0.15],[1597,0.3],[1614,0.4],[1629,0.2],[1647,0.35],[1664,0.25],[1679,0.45],[1697,0.3],[1714,0.4],[1729,0.2],[1747,0.45],[1764,0.3],[1779,0.5],[1797,0.35],[1814,0.2],[1829,0.4],[1847,0.3],[1864,0.15],[1879,0.35],[1897,0.25],[1914,0.4],[1929,0.3],[1947,0.2],[1964,0.35],[1979,0.25],[1997,0.1],[2014,0.2],[2029,-0.05],[2043,0.1],
[968,3.74],[619,2.46],[667,2.61],[1102,2.52],[1928,2.61],[1625,2.28],[1596,1.73],[1883,1.87],[266,1.34],[716,1.46],[1170,1.49],[1439,1.49],[1413,1.14],[1423,1.14],[1613,1.2],[150,0.99],[315,0.84],[901,0.87],[1048,0.96],[1097,0.79],[1311,0.96],[1503,0.99],[1738,1.1],[1836,1.05],[1968,0.96],[2024,1.05],[75,0.76],[528,0.64],[160,0.6],[211,0.55],[441,0.5],
[124,-2.63],[358,-2.3],[368,-2.1],[256,-1.98],[182,-2.0],[545,-2.03],[521,-1.8],[348,-1.86],[1048,-2.1],[1000,-1.69],[774,-1.8],[60,-1.77],[1327,-4.36],[466,-4.86],[1180,-4.83],[1586,-1.48],[1928,-1.48],[2030,-1.3],[1845,-1.2],[1963,-1.14],[1295,-1.14],[1124,-1.2],[1552,-1.0],[1532,-0.74],[1233,-1.08],[2025,-1.0]
];
// mean and standard deviation of the residuals (arcsec)
const alphaMean = -0.04, alphaSigma = 0.94;
const deltaMean = -0.385, deltaSigma = 0.685;

// ---------- CHART ----------
const FONT = 'DejaVu Sans';
const FS = 27.8;
const MATH = 'Liberation Serif';
const minus = s => String(s).replace('-', '\u2212');

function stepOutline(edges, counts) {
  const pts = [[edges[0], 0]];
  counts.forEach((c, i) => { pts.push([edges[i], c]); pts.push([edges[i + 1], c]); });
  pts.push([edges[edges.length - 1], 0]);
  return pts;
}
function baseAxis(gridIndex, min, max, interval, position) {
  return {
    type: 'value', gridIndex, min, max, interval, position,
    splitLine: { show: false },
    axisLine: { show: true, onZero: false, lineStyle: { color: '#000', width: 1 } },
    axisTick: { show: true, inside: true, length: 6, lineStyle: { color: '#000', width: 1 } },
    axisLabel: { show: false }
  };
}
function mainAxis(gridIndex, min, max, interval, position, fmt, margin, showMax, name, nameGap, nameStyle) {
  const a = baseAxis(gridIndex, min, max, interval, position);
  a.axisLabel = { show: true, color: '#000', fontFamily: FONT, fontSize: FS, margin, formatter: fmt,
                  showMinLabel: true, showMaxLabel: showMax, hideOverlap: false };
  a.name = name; a.nameLocation = 'middle'; a.nameGap = nameGap;
  a.nameTextStyle = Object.assign({ color: '#000', fontFamily: FONT, fontSize: FS }, nameStyle || {});
  return a;
}
const mathName = { fontFamily: MATH, fontStyle: 'italic', fontSize: 31 };
const mathRich = { fontSize: 31, rich: {
  u: { fontFamily: MATH, fontStyle: 'normal', fontSize: 31, color: '#000' },
  i: { fontFamily: MATH, fontStyle: 'italic', fontSize: 31, color: '#000' } } };

const grids = [
  { left: 313, top: 44, width: 419, height: 306 },
  { left: 1012, top: 44, width: 419, height: 306 },
  { left: 313, top: 497, width: 419, height: 306 },
  { left: 1012, top: 497, width: 419, height: 306 }
];

const xAxes = [
  mainAxis(0, 0, 0.6, 0.1, 'bottom', v => v.toFixed(1), 6, true, 'α(degree)', 36, mathName),
  baseAxis(0, 0, 0.6, 0.1, 'top'),
  mainAxis(1, -8, 8, 2, 'bottom', v => minus(v), 6, true, 'Residues (arcsec)', 33),
  baseAxis(1, -8, 8, 2, 'top'),
  mainAxis(2, 0, 2048, 500, 'bottom', v => minus(v), 6, false, 'X (pixel)', 33),
  baseAxis(2, 0, 2048, 500, 'top'),
  mainAxis(3, 0, 2048, 500, 'bottom', v => minus(v), 6, false, 'Y (pixel)', 33),
  baseAxis(3, 0, 2048, 500, 'top')
];
const yAxes = [
  mainAxis(0, -51.2, -50.8, 0.05, 'left', v => minus(v.toFixed(2)), 6, true, 'δ(degree)', 116, mathName),
  baseAxis(0, -51.2, -50.8, 0.05, 'right'),
  mainAxis(1, 0, 1000, 200, 'left', v => minus(v), 6, true, 'Frequency', 80),
  baseAxis(1, 0, 1000, 200, 'right'),
  mainAxis(2, -8, 8, 2, 'left', v => minus(v), 6, true, '{u|Δ}{i|α(arcsec)}', 50, mathRich),
  baseAxis(2, -8, 8, 2, 'right'),
  mainAxis(3, -5, 4, 1, 'left', v => minus(v), 6, true, '{u|Δ}{i|δ(arcsec)}', 50, mathRich),
  baseAxis(3, -5, 4, 1, 'right')
];

function residSeries(idx, data, color, fill, mean, sigma) {
  return {
    type: 'scatter', xAxisIndex: idx, yAxisIndex: idx, data, symbolSize: 6,
    itemStyle: { color, opacity: 1 }, silent: true,
    markArea: { silent: true, itemStyle: { color: fill, opacity: 1 },
      data: [[{ yAxis: mean - sigma }, { yAxis: mean + sigma }]] },
    markLine: { silent: true, symbol: ['none', 'none'], label: { show: false }, animation: false,
      data: [
        { yAxis: mean, lineStyle: { color: '#808080', width: 1.3, type: 'solid', opacity: 1 } },
        { yAxis: 0, lineStyle: { color: '#000', width: 2.6, type: [8, 4.5], opacity: 1 } }
      ] }
  };
}

const legendRich = {
  m: { fontFamily: MATH, fontStyle: 'italic', fontSize: 18, lineHeight: 20, color: '#000' },
  s: { fontFamily: MATH, fontStyle: 'italic', fontSize: 13, lineHeight: 10, verticalAlign: 'bottom', color: '#000' },
  o: { fontFamily: FONT, fontSize: 16, lineHeight: 20, color: '#000' }
};

const option = {
  animation: false,
  backgroundColor: '#fff',
  textStyle: { fontFamily: FONT },
  grid: grids,
  xAxis: xAxes,
  yAxis: yAxes,
  legend: [
    { left: 321, top: 52, orient: 'vertical', padding: [5, 5, 4, 7], itemWidth: 30, itemHeight: 6,
      borderColor: '#000', borderWidth: 1, borderRadius: 0, backgroundColor: '#fff', selectedMode: false,
      data: [{ name: starCountLabel, icon: 'circle', itemStyle: { color: '#0000ff', opacity: 1 } }],
      textStyle: { fontFamily: FONT, fontSize: 16.7, lineHeight: 17, color: '#000', padding: [0, 0, 0, 11] } },
    { left: 1020, top: 52, orient: 'vertical', padding: [3.5, 8, 8, 6], itemGap: 8.5, itemWidth: 34, itemHeight: 11,
      borderColor: '#000', borderWidth: 1, borderRadius: 0, backgroundColor: '#fff', selectedMode: false,
      data: [
        { name: histNameAlpha, icon: 'rect', itemStyle: { color: '#fff', borderColor: '#0000ff', borderWidth: 1.5 } },
        { name: histNameDelta, icon: 'rect', itemStyle: { color: '#fff', borderColor: '#ff0000', borderWidth: 1.5 } }
      ],
      formatter: n => n === histNameAlpha ? '{m|α}{s|2mass}{o|−}{m|α}{s|wcstools}' : '{m|δ}{s|2mass}{o|−}{m|δ}{s|wcstools}',
      textStyle: { padding: [0, 0, 0, 8], rich: legendRich } }
  ],
  graphic: [
    { type: 'text', right: 1518 - 732, top: 377, silent: true,
      style: { text: raOffsetText, font: '16.7px "DejaVu Sans"', fill: '#000' } }
  ],
  series: [
    { type: 'scatter', name: starCountLabel, xAxisIndex: 0, yAxisIndex: 0, data: starPositions,
      symbolSize: 6, itemStyle: { color: '#0000ff', opacity: 1 }, silent: true },
    { type: 'line', name: histNameAlpha, xAxisIndex: 2, yAxisIndex: 2, data: stepOutline(histEdgesAlpha, histCountsAlpha),
      symbol: 'none', showSymbol: false, lineStyle: { color: '#0000ff', width: 1.3 }, itemStyle: { color: '#0000ff' }, silent: true },
    { type: 'line', name: histNameDelta, xAxisIndex: 2, yAxisIndex: 2, data: stepOutline(histEdgesDelta, histCountsDelta),
      symbol: 'none', showSymbol: false, lineStyle: { color: '#ff0000', width: 1.3 }, itemStyle: { color: '#ff0000' }, silent: true },
    residSeries(4, residAlphaX, 'rgba(0,0,255,0.27)', 'rgba(0,0,255,0.1)', alphaMean, alphaSigma),
    residSeries(6, residDeltaY, 'rgba(255,0,0,0.27)', 'rgba(255,0,0,0.1)', deltaMean, deltaSigma)
  ]
};

const chart = echarts.init(document.getElementById('c'), null, { renderer: 'canvas' });
chart.setOption(option);
</script>
</body></html>
